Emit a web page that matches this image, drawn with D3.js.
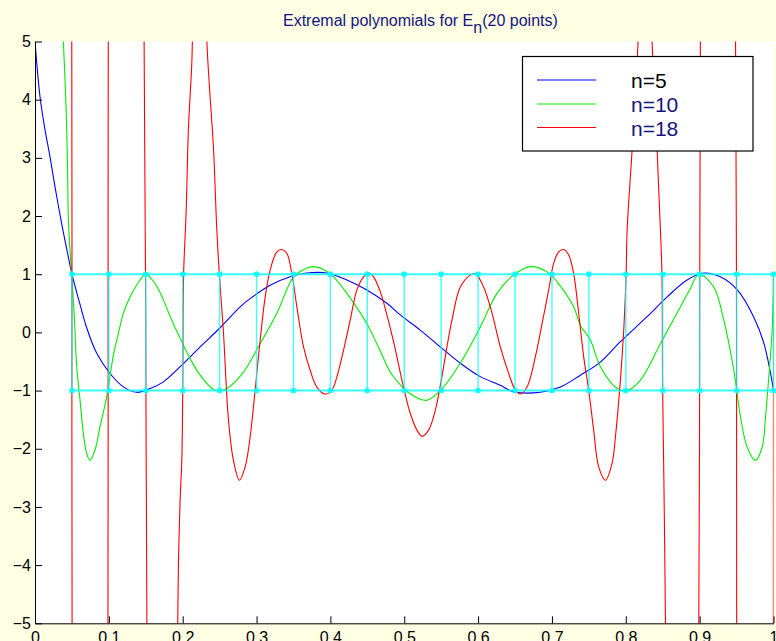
<!DOCTYPE html>
<html>
<head>
<meta charset="utf-8">
<script src="https://cdn.jsdelivr.net/npm/d3@7"></script>
<style>
  html, body { margin: 0; padding: 0; background: #ffffe4; }
  svg { display: block; }
</style>
</head>
<body>
<svg id="chart" width="776" height="641"></svg>
<script>
// ---- axis ticks ----
const xTicks = [0, 0.1, 0.2, 0.3, 0.4, 0.5, 0.6, 0.7, 0.8, 0.9, 1];
const xTickLabels = ["0", "0.1", "0.2", "0.3", "0.4", "0.5", "0.6", "0.7", "0.8", "0.9", "1"];
const yTicks = [-5, -4, -3, -2, -1, 0, 1, 2, 3, 4, 5];
const yTickLabels = ["\u22125", "\u22124", "\u22123", "\u22122", "\u22121", "0", "1", "2", "3", "4", "5"];

// ---- the 20 sample points and the +/-1 band ----
const gridX = [0.05, 0.10, 0.15, 0.20, 0.25, 0.30, 0.35, 0.40, 0.45, 0.50,
               0.55, 0.60, 0.65, 0.70, 0.75, 0.80, 0.85, 0.90, 0.95, 1.00];
const gridLevels = [1, -1];

// ---- legend ----
const seriesNames = ["n=5", "n=10", "n=18"];

// ---- extremal polynomial n=5 ----
const polyN5 = [
  [0, 5.0], [0.0068, 4.05], [0.0136, 3.48], [0.0203, 3.02], [0.0271, 2.5],
  [0.0361, 1.87], [0.0451, 1.3], [0.05, 1.0], [0.061, 0.48],
  [0.07, 0.08], [0.0836, -0.36], [0.1016, -0.706], [0.1197, -0.936], [0.1378, -1.03],
  [0.1558, -0.965], [0.1739, -0.85], [0.1965, -0.59], [0.2236, -0.248], [0.2507, 0.08],
  [0.2778, 0.44], [0.2913, 0.58], [0.3184, 0.81], [0.3455, 0.955], [0.368, 1.02],
  [0.395, 1.02], [0.4223, 0.9], [0.4494, 0.73], [0.4765, 0.5], [0.4946, 0.3],
  [0.5217, 0.04], [0.5488, -0.25], [0.5759, -0.53], [0.603, -0.76], [0.63, -0.91],
  [0.648, -1.02], [0.6843, -1.03], [0.7114, -0.94], [0.7385, -0.735], [0.7656, -0.51],
  [0.7927, -0.16], [0.8288, 0.27], [0.856, 0.61], [0.883, 0.9], [0.9056, 1.02],
  [0.928, 0.955], [0.951, 0.73], [0.973, 0.27], [0.987, -0.19], [1.0, -0.99]
];

// ---- extremal polynomial n=10 ----
const polyN10 = [
  [0.036, 6.0], [0.0384, 5.0], [0.0407, 4.34], [0.043, 3.48], [0.0443, 2.62],
  [0.0451, 1.99], [0.0474, 1.41], [0.05, 0.95], [0.0535, 0.2], [0.0565, -0.59],
  [0.061, -1.165], [0.0655, -1.74], [0.070, -2.08], [0.0745, -2.2], [0.0813, -2.02],
  [0.088, -1.62], [0.0962, -1.165], [0.1, -0.9], [0.106, -0.4], [0.1129, -0.02],
  [0.1197, 0.33], [0.1287, 0.61], [0.1423, 0.9], [0.15, 1.0], [0.1626, 0.84],
  [0.1739, 0.555], [0.1855, 0.2], [0.1965, -0.1], [0.21, -0.45], [0.2236, -0.735],
  [0.2416, -0.98], [0.25, -1.0], [0.2575, -0.98], [0.28, -0.72], [0.305, -0.19],
  [0.3275, 0.33], [0.35, 0.955], [0.3636, 1.08], [0.377, 1.13], [0.3907, 1.08],
  [0.4042, 0.955], [0.4223, 0.67], [0.4494, 0.15], [0.4675, -0.32], [0.481, -0.68],
  [0.4946, -0.9], [0.5014, -0.99], [0.5217, -1.15], [0.5307, -1.165], [0.5488, -1.0],
  [0.5759, -0.53], [0.603, 0.095], [0.6256, 0.67], [0.648, 0.985], [0.6707, 1.13],
  [0.6933, 1.04], [0.7069, 0.87], [0.7294, 0.44], [0.7385, 0.12], [0.752, -0.13],
  [0.7656, -0.59], [0.788, -0.96], [0.8018, -1.0], [0.8198, -0.82], [0.847, -0.19],
  [0.874, 0.44], [0.8875, 0.755], [0.8988, 1.0], [0.919, 0.78], [0.9327, 0.21],
  [0.9462, -0.65], [0.9553, -1.45], [0.9643, -1.97], [0.9756, -2.2], [0.9847, -1.97],
  [0.9892, -1.45], [0.9937, -0.76], [0.9982, 0.04], [1.0, 1.0]
];

// ---- extremal polynomial n=18 (leaves the window between the outer samples) ----
const polyN18 = [
  [0.03, 40], [0.0497, 6], [0.05, 0], [0.0503, -6], [0.075, -60], [0.0987, -6],
  [0.099, 0], [0.0993, 6], [0.124, 60], [0.1475, 5.5], [0.15, 0], [0.1517, -5.5],
  [0.172, -25], [0.1925, -6], [0.1933, -5.0], [0.1942, -4.0], [0.1965, -2.88],
  [0.1988, -2.2], [0.2001, -0.9], [0.2012, 0.985], [0.2046, 2.05], [0.2077, 3.48],
  [0.2123, 4.62], [0.2131, 5.0], [0.2145, 6], [0.223, 15], [0.231, 6],
  [0.2327, 5.0], [0.2371, 4.05], [0.2416, 3.19], [0.2462, 1.76], [0.2497, 0.985],
  [0.255, 0.04], [0.262, -1.51], [0.2687, -2.2], [0.2768, -2.54], [0.2846, -2.31],
  [0.2913, -1.8], [0.2981, -0.99], [0.3049, -0.13], [0.3117, 0.61], [0.3184, 1.07],
  [0.3275, 1.385], [0.3343, 1.425], [0.341, 1.36], [0.3478, 1.01], [0.3546, 0.44],
  [0.3636, -0.25], [0.3726, -0.65], [0.3817, -0.94], [0.393, -1.06], [0.402, -0.99],
  [0.4088, -0.765], [0.4178, -0.305], [0.4268, 0.21], [0.4359, 0.73], [0.4449, 0.955],
  [0.4516, 1.02], [0.4584, 0.955], [0.4675, 0.7], [0.4765, 0.3], [0.4866, -0.22],
  [0.499, -0.94], [0.5081, -1.39], [0.5172, -1.68], [0.524, -1.785], [0.533, -1.68],
  [0.542, -1.34], [0.551, -0.76], [0.5578, -0.25], [0.5646, 0.21], [0.5759, 0.78],
  [0.5894, 0.985], [0.5962, 1.01], [0.6075, 0.78], [0.6188, 0.33], [0.6301, -0.25],
  [0.6414, -0.705], [0.6504, -0.99], [0.6572, -1.06], [0.6662, -0.94], [0.6775, -0.42],
  [0.6866, 0.15], [0.6956, 0.73], [0.7023, 1.185], [0.7091, 1.385], [0.7159, 1.425],
  [0.7227, 1.33], [0.7294, 1.01], [0.7362, 0.33], [0.743, -0.42], [0.7497, -0.99],
  [0.7565, -1.68], [0.7633, -2.31], [0.7724, -2.54], [0.7814, -2.25], [0.7859, -1.8],
  [0.7927, -0.82], [0.7972, 0.04], [0.8004, 0.985], [0.8018, 1.76], [0.8085, 3.13],
  [0.8166, 5.0], [0.818, 6], [0.826, 15], [0.834, 6], [0.8356, 5.0],
  [0.8424, 3.13], [0.8469, 1.76], [0.849, 0.985], [0.8498, -0.9], [0.8512, -2.2],
  [0.8525, -3.5], [0.8537, -5.0], [0.8545, -6], [0.877, -25], [0.8985, -6],
  [0.9, 0], [0.9012, 6], [0.925, 60], [0.9483, 6], [0.95, 0], [0.9502, -6],
  [0.975, -60], [0.9997, -6], [1.0, 1.0]
];

const seriesData = [polyN5, polyN10, polyN18];
const seriesColors = ["#0000ff", "#00ee00", "#ff0000"];
const legendTextColors = ["#000000", "#14147f", "#14147f"];

// ---- layout ----
const W = 776, H = 641;
const plot = { left: 35, right: 773.5, top: 41.5, bottom: 623.3 };
const FONT = "'Liberation Sans', Arial, Helvetica, sans-serif";

const svg = d3.select("#chart");
svg.append("rect").attr("width", W).attr("height", H).attr("fill", "#ffffe4");
svg.append("rect")
  .attr("x", plot.left).attr("y", plot.top)
  .attr("width", plot.right - plot.left).attr("height", plot.bottom - plot.top)
  .attr("fill", "#ffffff");

const x = d3.scaleLinear().domain([0, 1]).range([plot.left, plot.right]);
const y = d3.scaleLinear().domain([-5, 5]).range([plot.bottom, plot.top]);

svg.append("defs").append("clipPath").attr("id", "plotClip")
  .append("rect")
  .attr("x", plot.left).attr("y", plot.top)
  .attr("width", plot.right - plot.left).attr("height", plot.bottom - plot.top);

// ---- curves ----
const line = d3.line()
  .x(d => x(d[0])).y(d => y(d[1]))
  .curve(d3.curveCatmullRom.alpha(0.5));

const curves = svg.append("g").attr("clip-path", "url(#plotClip)");
seriesData.forEach((s, i) => {
  curves.append("path")
    .datum(s)
    .attr("d", line)
    .attr("fill", "none")
    .attr("stroke", seriesColors[i])
    .attr("stroke-width", 1.1)
    .attr("stroke-linejoin", "round");
});

// ---- sample grid: band lines, verticals and star markers ----
const gridG = svg.append("g").attr("stroke", "#00ffff").attr("fill", "none");
gridLevels.forEach(v => {
  gridG.append("line")
    .attr("x1", x(gridX[0])).attr("x2", x(gridX[gridX.length - 1]))
    .attr("y1", y(v)).attr("y2", y(v))
    .attr("stroke-width", 2).attr("stroke-opacity", 0.8);
});
gridX.forEach(gx => {
  gridG.append("line")
    .attr("x1", x(gx)).attr("x2", x(gx))
    .attr("y1", y(gridLevels[0])).attr("y2", y(gridLevels[1]))
    .attr("stroke-width", 1.4).attr("stroke-opacity", 0.75);
});
const starPts = [];
gridLevels.forEach(v => gridX.forEach(gx => starPts.push([gx, v])));
gridG.selectAll("path.star")
  .data(starPts)
  .enter().append("path")
  .attr("class", "star")
  .attr("stroke-width", 1.3)
  .attr("d", d => {
    const px = x(d[0]), py = y(d[1]), r = 3, q = 2.2;
    return `M${px - r},${py}h${2 * r}M${px},${py - r}v${2 * r}` +
           `M${px - q},${py - q}l${2 * q},${2 * q}M${px - q},${py + q}l${2 * q},${-2 * q}`;
  });

// ---- axes ----
const xAxis = d3.axisBottom(x)
  .tickValues(xTicks)
  .tickFormat((d, i) => xTickLabels[i])
  .tickSizeInner(-7).tickSizeOuter(0).tickPadding(8);
const yAxis = d3.axisLeft(y)
  .tickValues(yTicks)
  .tickFormat((d, i) => yTickLabels[i])
  .tickSizeInner(-7).tickSizeOuter(0).tickPadding(4);

const gx = svg.append("g").attr("transform", `translate(0,${plot.bottom})`).call(xAxis);
const gy = svg.append("g").attr("transform", `translate(${plot.left},0)`).call(yAxis);
[gx, gy].forEach(g => {
  g.attr("font-family", FONT).attr("font-size", 16);
  g.select(".domain").attr("stroke", "#000").attr("stroke-width", 1);
  g.selectAll(".tick line").attr("stroke", "#000").attr("stroke-width", 1);
  g.selectAll(".tick text").attr("fill", "#000");
});

// ---- title ----
const title = svg.append("text")
  .attr("x", 283).attr("y", 26)
  .attr("font-family", FONT).attr("font-size", 16)
  .attr("fill", "#14147f");
title.append("tspan").text("Extremal polynomials for E");
title.append("tspan").attr("dy", 7).text("n");
title.append("tspan").attr("dy", -7).text("(20 points)");

// ---- legend ----
const lg = svg.append("g");
lg.append("rect")
  .attr("x", 522.5).attr("y", 56.5).attr("width", 230.5).attr("height", 94.5)
  .attr("fill", "#ffffff").attr("stroke", "#000").attr("stroke-width", 1.2);
const legendRows = [80, 104, 127.5];
seriesNames.forEach((name, i) => {
  lg.append("line")
    .attr("x1", 537).attr("x2", 596)
    .attr("y1", legendRows[i]).attr("y2", legendRows[i])
    .attr("stroke", seriesColors[i]).attr("stroke-width", 1);
  lg.append("text")
    .attr("x", 631).attr("y", legendRows[i] + 8)
    .attr("font-family", FONT).attr("font-size", 21)
    .attr("fill", legendTextColors[i])
    .text(name);
});
</script>
</body>
</html>
